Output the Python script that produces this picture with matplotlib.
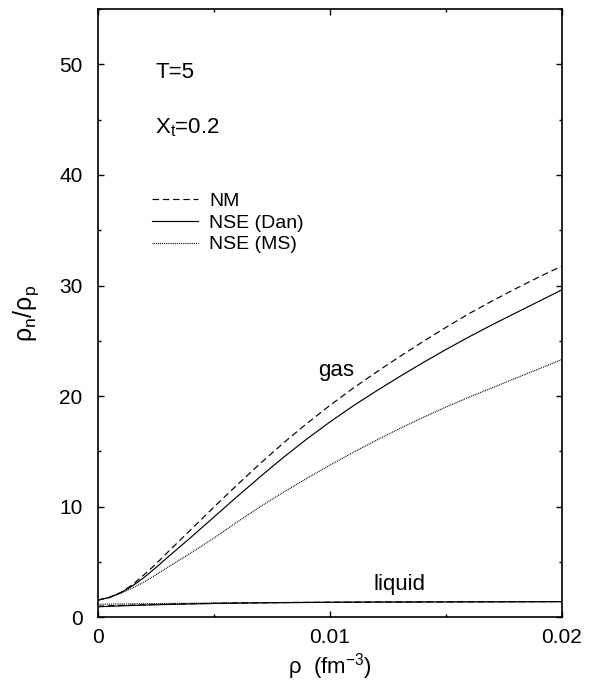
import matplotlib
matplotlib.use("Agg")
import matplotlib.pyplot as plt
from matplotlib.ticker import MultipleLocator

plt.rcParams['font.family'] = ['Liberation Sans', 'DejaVu Sans']
plt.rcParams['mathtext.fontset'] = 'custom'
plt.rcParams['mathtext.rm'] = 'Liberation Sans'
plt.rcParams['mathtext.it'] = 'Liberation Sans'
plt.rcParams['mathtext.default'] = 'regular'

# density grid (fm^-3)
rho = [0.000, 0.0005, 0.001, 0.0015, 0.002, 0.0025, 0.003, 0.004, 0.005, 0.006,
       0.007, 0.008, 0.009, 0.010, 0.011, 0.012, 0.013, 0.014, 0.015, 0.016,
       0.017, 0.018, 0.019, 0.020]

# gas branch
gas_nm = [1.55, 1.8, 2.25, 2.95, 3.85, 4.8, 5.85, 7.9, 9.95, 11.95,
          13.9, 15.75, 17.5, 19.15, 20.7, 22.15, 23.55, 24.9, 26.2, 27.45,
          28.6, 29.7, 30.75, 31.75]
gas_dan = [1.55, 1.8, 2.22, 2.85, 3.6, 4.48, 5.4, 7.2, 9.05, 10.9,
           12.7, 14.45, 16.1, 17.65, 19.1, 20.45, 21.75, 23.0, 24.2, 25.35,
           26.45, 27.5, 28.55, 29.6]
gas_ms = [1.55, 1.78, 2.18, 2.65, 3.2, 3.83, 4.5, 5.8, 7.15, 8.6,
          10.0, 11.3, 12.55, 13.75, 14.9, 16.0, 17.05, 18.05, 19.0, 19.9,
          20.75, 21.6, 22.45, 23.3]

# liquid branch
liq_nm = [1.0, 1.04, 1.07, 1.1, 1.13, 1.16, 1.18, 1.22, 1.26, 1.29,
          1.31, 1.33, 1.35, 1.36, 1.37, 1.38, 1.39, 1.39, 1.4, 1.4,
          1.41, 1.41, 1.42, 1.42]
liq_dan = [0.95, 0.99, 1.03, 1.07, 1.1, 1.13, 1.16, 1.21, 1.25, 1.28,
           1.31, 1.33, 1.34, 1.36, 1.37, 1.38, 1.38, 1.39, 1.39, 1.4,
           1.4, 1.41, 1.41, 1.42]
liq_ms = [1.17, 1.19, 1.2, 1.22, 1.23, 1.24, 1.25, 1.27, 1.29, 1.31,
          1.32, 1.33, 1.34, 1.35, 1.36, 1.37, 1.38, 1.38, 1.39, 1.39,
          1.4, 1.4, 1.41, 1.41]

labels = ['NM', 'NSE (Dan)', 'NSE (MS)']

fig = plt.figure(figsize=(5.97, 6.83), dpi=100)
ax = fig.add_axes([0.1637, 0.0962, 0.9409 - 0.1637, 0.9868 - 0.0962])

dash = (0, (5.5, 3.2))
dot = (0, (0.8, 0.8))
lw = 0.85
l1, = ax.plot(rho, gas_nm, color='black', lw=lw, linestyle=dash)
l2, = ax.plot(rho, gas_dan, color='black', lw=lw, linestyle='-')
l3, = ax.plot(rho, gas_ms, color='black', lw=lw, linestyle=dot)
ax.plot(rho, liq_nm, color='black', lw=lw, linestyle=dash)
ax.plot(rho, liq_dan, color='black', lw=lw, linestyle='-')
ax.plot(rho, liq_ms, color='black', lw=lw, linestyle=dot)

ax.set_xlim(0, 0.02)
ax.set_ylim(0, 55)
ax.xaxis.set_minor_locator(MultipleLocator(0.005))
ax.yaxis.set_major_locator(MultipleLocator(10))
ax.yaxis.set_minor_locator(MultipleLocator(5))
ax.set_xticks([0, 0.01, 0.02])
ax.set_xticklabels(['0', '0.01', '0.02'])
ax.tick_params(which='both', direction='in', top=True, right=True,
               labelsize=15, width=1.0)
ax.tick_params(axis='x', which='both', pad=8)
ax.tick_params(axis='y', which='both', pad=11)
ax.tick_params(which='major', length=4.5)
ax.tick_params(which='minor', length=2.5)
for s in ax.spines.values():
    s.set_linewidth(1.2)

ax.set_xlabel(r'ρ  (fm$^{-3}$)', fontsize=16, labelpad=3)
ax.set_ylabel(r'ρ$_n$/ρ$_p$', fontsize=18, labelpad=13)

ax.text(0.00247, 48.8, 'T=5', fontsize=16, ha='left', va='baseline')
ax.text(0.00245, 43.75, r'X$_t$=0.2', fontsize=16, ha='left', va='baseline')
ax.text(0.00952, 21.8, 'gas', fontsize=16, ha='left', va='baseline')
ax.text(0.01187, 2.5, 'liquid', fontsize=16, ha='left', va='baseline')

ax.legend([l1, l2, l3], labels, loc='upper left', bbox_to_anchor=(0.117, 0.699),
          frameon=False, fontsize=14, handlelength=2.35, handletextpad=0.6,
          labelspacing=0.22, borderaxespad=0, borderpad=0)

fig.savefig('out.png', dpi=100)
